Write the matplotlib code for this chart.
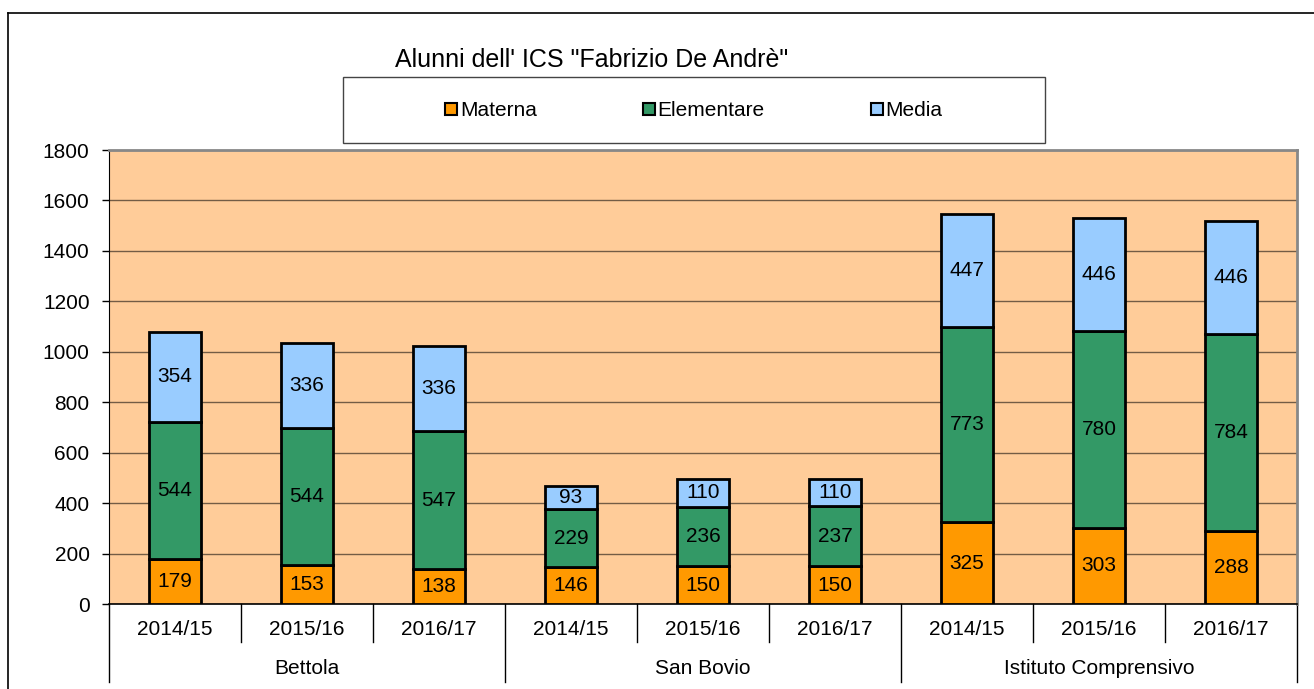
import matplotlib.pyplot as plt
from matplotlib.lines import Line2D
from matplotlib.patches import Rectangle, Patch
import numpy as np

plt.rcParams['font.family'] = ['Liberation Sans', 'DejaVu Sans']

# data
groups = ['Bettola', 'San Bovio', 'Istituto Comprensivo']
years = ['2014/15', '2015/16', '2016/17']
materna = [179, 153, 138, 146, 150, 150, 325, 303, 288]
elementare = [544, 544, 547, 229, 236, 237, 773, 780, 784]
media = [354, 336, 336, 93, 110, 110, 447, 446, 446]
series_names = ['Materna', 'Elementare', 'Media']
colors = ['#FF9900', '#339966', '#99CCFF']
title = 'Alunni dell\' ICS "Fabrizio De Andrè"'

FS = 15
W, H = 1314, 689
fig = plt.figure(figsize=(W / 100, H / 100), dpi=100)
ax = fig.add_axes([109 / W, 1 - 604 / H, (1297 - 109) / W, (604 - 150) / H])
ax.set_facecolor('#FFCC99')

x = np.arange(len(materna))
bottom = np.zeros(len(x))
for vals, col in zip([materna, elementare, media], colors):
    vals = np.array(vals)
    ax.bar(x, vals, 0.4, bottom=bottom, color=col, edgecolor='black',
           linewidth=2, zorder=3)
    for xi, b, v in zip(x, bottom, vals):
        ax.text(xi, b + v / 2, str(v), ha='center', va='center', fontsize=FS, zorder=4)
    bottom += vals

ax.set_xlim(-0.5, len(x) - 0.5)
ax.set_ylim(0, 1800)
ax.set_yticks(range(0, 1801, 200))
ax.tick_params(axis='y', labelsize=FS, length=5, pad=9, width=1)
ax.yaxis.grid(True, color='#000000', alpha=0.55, linewidth=1, zorder=1)
ax.set_axisbelow(True)
ax.set_xticks([])

for side in ['top', 'right']:
    ax.spines[side].set_color('#888888')
    ax.spines[side].set_linewidth(2)
ax.spines['left'].set_color('black')
ax.spines['bottom'].set_color('black')
ax.spines['bottom'].set_linewidth(1.2)

# category axis: years, groups, separators
trans = ax.get_xaxis_transform()
for i, xi in enumerate(x):
    ax.text(xi, -0.057, years[i % 3], ha='center', va='center', fontsize=FS,
            transform=trans)
for g, name in enumerate(groups):
    ax.text(3 * g + 1, -0.141, name, ha='center', va='center', fontsize=FS,
            transform=trans)
for k in range(len(x) + 1):
    y_end = -0.172 if k % 3 == 0 else -0.0837
    ax.plot([k - 0.5, k - 0.5], [0, y_end], color='black', linewidth=1,
            transform=trans, clip_on=False)

# title
fig.text(592 / W, 1 - 60 / H, title, ha='center', va='center', fontsize=18)

# legend box
fig.patches.append(Rectangle((343 / W, 1 - 143 / H), (1045 - 343) / W, (143 - 77) / H,
                             transform=fig.transFigure, facecolor='white',
                             edgecolor='#444444', linewidth=1))
handles = [Patch(facecolor=c, edgecolor='black', linewidth=1.5) for c in colors]
fig.legend(handles, series_names, loc='center', ncol=3, frameon=False,
           bbox_to_anchor=(694 / W, 1 - 111 / H), fontsize=FS,
           handlelength=0.55, handleheight=0.55, handletextpad=0.15,
           columnspacing=5.1)

# outer frame (top and left)
fig.lines.append(Line2D([8 / W, 1], [1 - 13 / H, 1 - 13 / H], color='black',
                        linewidth=1.2, transform=fig.transFigure))
fig.lines.append(Line2D([8 / W, 8 / W], [0, 1 - 13 / H], color='black',
                        linewidth=1.2, transform=fig.transFigure))

fig.savefig('out.png', dpi=100)
